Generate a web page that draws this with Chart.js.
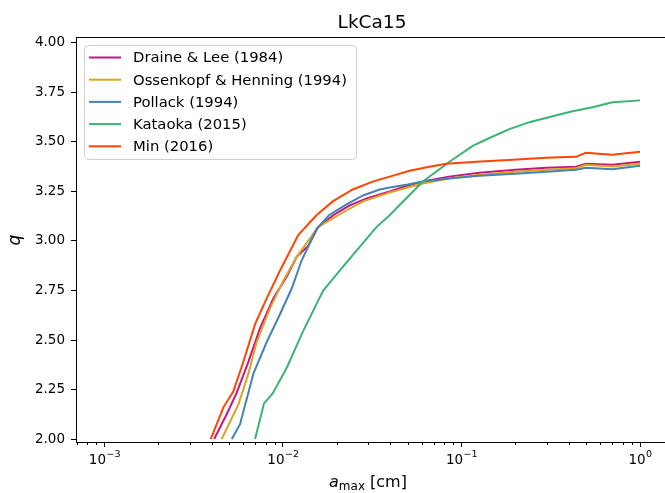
<!DOCTYPE html>
<html>
<head>
<meta charset="utf-8">
<script src="https://cdn.jsdelivr.net/npm/chart.js@4.4.0/dist/chart.umd.min.js"></script>
<style>
  body { margin: 0; background: #fff; }
  #wrap { width: 665px; height: 493px; }
</style>
</head>
<body>
<div id="wrap"><canvas id="grafik-q" width="665" height="493"></canvas></div>
<script>
// Data (a_max in cm, q)
const aMaxDraine = [0.00412, 0.00484, 0.00551, 0.0064, 0.00744, 0.00883, 0.0105, 0.01194, 0.01385, 0.01574, 0.0191, 0.02367, 0.0294, 0.0396, 0.05, 0.0608, 0.085, 0.126, 0.2, 0.3, 0.4375, 0.497, 0.7, 1.0];
const qDraine = [2.00, 2.125, 2.234, 2.39, 2.56, 2.71, 2.82, 2.92, 2.975, 3.07, 3.13, 3.18, 3.215, 3.25, 3.28, 3.30, 3.325, 3.345, 3.36, 3.37, 3.375, 3.39, 3.385, 3.40];

const aMaxOssenkopf = [0.00454, 0.00563, 0.0064, 0.00713, 0.00846, 0.01005, 0.01194, 0.01574, 0.0208, 0.0281, 0.0396, 0.05, 0.0608, 0.085, 0.126, 0.2, 0.3, 0.4375, 0.497, 0.7, 1.0];
const qOssenkopf = [2.00, 2.175, 2.33, 2.49, 2.66, 2.80, 2.92, 3.07, 3.135, 3.20, 3.245, 3.27, 3.29, 3.315, 3.335, 3.35, 3.36, 3.367, 3.385, 3.376, 3.39];

const aMaxPollack = [0.00517, 0.00575, 0.00683, 0.00811, 0.00962, 0.01119, 0.0127, 0.01541, 0.0181, 0.0227, 0.0281, 0.0348, 0.0396, 0.05, 0.0608, 0.085, 0.126, 0.2, 0.3, 0.4375, 0.497, 0.7, 1.0];
const qPollack = [2.00, 2.075, 2.33, 2.49, 2.63, 2.76, 2.90, 3.06, 3.13, 3.185, 3.23, 3.26, 3.27, 3.285, 3.30, 3.315, 3.33, 3.34, 3.35, 3.36, 3.37, 3.362, 3.38];

const aMaxKataoka = [0.00698, 0.00783, 0.00876, 0.0105, 0.01297, 0.0168, 0.0217, 0.0281, 0.0334, 0.0396, 0.0432, 0.0608, 0.0857, 0.1156, 0.1433, 0.1855, 0.24, 0.3236, 0.419, 0.542, 0.7, 1.0];
const qKataoka = [2.00, 2.18, 2.23, 2.36, 2.545, 2.75, 2.87, 2.99, 3.07, 3.13, 3.165, 3.30, 3.40, 3.48, 3.52, 3.565, 3.60, 3.63, 3.655, 3.675, 3.70, 3.71];

const aMaxMin = [0.00394, 0.00464, 0.00527, 0.006, 0.00698, 0.00811, 0.00962, 0.01217, 0.01541, 0.019, 0.0246, 0.0318, 0.0396, 0.0512, 0.0662, 0.0822, 0.1208, 0.1936, 0.297, 0.4375, 0.497, 0.7, 1.0];
const qMin = [2.00, 2.16, 2.24, 2.39, 2.58, 2.71, 2.85, 3.03, 3.13, 3.20, 3.26, 3.30, 3.325, 3.355, 3.375, 3.39, 3.40, 3.41, 3.42, 3.425, 3.445, 3.435, 3.45];

const seriesNames = ['Draine & Lee (1984)', 'Ossenkopf & Henning (1994)', 'Pollack (1994)', 'Kataoka (2015)', 'Min (2016)'];
const seriesColors = ['mediumvioletred', 'goldenrod', 'steelblue', 'mediumseagreen', 'orangered'];

const xTicks = [0.001, 0.01, 0.1, 1];
const xTickExponents = ['\u22123', '\u22122', '\u22121', '0'];
const yTicks = [2.00, 2.25, 2.50, 2.75, 3.00, 3.25, 3.50, 3.75, 4.00];

const FONT = 'DejaVu Sans';

function toPoints(xs, ys) {
  return xs.map((x, i) => ({ x: x, y: ys[i] }));
}

const allSeries = [
  toPoints(aMaxDraine, qDraine),
  toPoints(aMaxOssenkopf, qOssenkopf),
  toPoints(aMaxPollack, qPollack),
  toPoints(aMaxKataoka, qKataoka),
  toPoints(aMaxMin, qMin)
];

// Title, axis labels, top spine, minor ticks, 10^n labels, legend box
const hiasanPlugin = {
  id: 'hiasan',
  afterDraw(chart) {
    const ctx = chart.ctx;
    const area = chart.chartArea;
    const xs = chart.scales.x;
    ctx.save();
    ctx.strokeStyle = '#000';
    ctx.lineWidth = 1;

    // top spine
    ctx.beginPath();
    ctx.moveTo(area.left, area.top + 0.5);
    ctx.lineTo(area.right, area.top + 0.5);
    ctx.stroke();

    // minor ticks on the log axis
    for (let d = -4; d <= 0; d++) {
      for (let m = 2; m <= 9; m++) {
        const v = m * Math.pow(10, d);
        if (v <= xs.min || v >= xs.max) continue;
        const px = Math.round(xs.getPixelForValue(v)) + 0.5;
        ctx.beginPath();
        ctx.moveTo(px, area.bottom);
        ctx.lineTo(px, area.bottom + 3);
        ctx.stroke();
      }
    }

    ctx.fillStyle = '#000';
    ctx.textAlign = 'left';
    ctx.textBaseline = 'alphabetic';

    // x tick labels as 10 with raised exponent
    const baseFont = '13.5px "' + FONT + '"';
    const supFont = '9.5px "' + FONT + '"';
    xTicks.forEach((v, i) => {
      const px = xs.getPixelForValue(v);
      ctx.font = baseFont;
      const wBase = ctx.measureText('10').width;
      ctx.font = supFont;
      const wSup = ctx.measureText(xTickExponents[i]).width;
      const start = px - (wBase + wSup) / 2;
      ctx.font = baseFont;
      ctx.fillText('10', start, 464);
      ctx.font = supFont;
      ctx.fillText(xTickExponents[i], start + wBase + 0.5, 457);
    });

    // title
    ctx.font = '18.5px "' + FONT + '"';
    ctx.textAlign = 'center';
    ctx.fillText('LkCa15', 372, 28);

    // x label: a_max [cm]
    const mainFont = '16px "' + FONT + '"';
    const italicFont = 'oblique 16px "' + FONT + '"';
    const subFont = '12px "' + FONT + '"';
    ctx.textAlign = 'left';
    ctx.font = italicFont;
    const wA = ctx.measureText('a').width;
    ctx.font = subFont;
    const wSub = ctx.measureText('max').width;
    ctx.font = mainFont;
    const wRest = ctx.measureText(' [cm]').width;
    let x0 = 368 - (wA + wSub + wRest) / 2;
    ctx.font = italicFont;
    ctx.fillText('a', x0, 487);
    x0 += wA;
    ctx.font = subFont;
    ctx.fillText('max', x0, 490);
    x0 += wSub;
    ctx.font = mainFont;
    ctx.fillText(' [cm]', x0, 487);

    // y label: q
    ctx.save();
    ctx.translate(20, 240);
    ctx.rotate(-Math.PI / 2);
    ctx.textAlign = 'center';
    ctx.font = 'oblique 17px "' + FONT + '"';
    ctx.fillText('q', 0, 0);
    ctx.restore();

    // legend
    const lx = 84, ly = 45, lw = 272, lh = 114;
    ctx.beginPath();
    ctx.roundRect(lx + 0.5, ly + 0.5, lw, lh, 4);
    ctx.fillStyle = 'rgba(255,255,255,0.8)';
    ctx.fill();
    ctx.strokeStyle = '#d0d0d0';
    ctx.stroke();
    ctx.font = '14.8px "' + FONT + '"';
    ctx.textBaseline = 'middle';
    ctx.lineWidth = 2;
    seriesNames.forEach((name, i) => {
      const ry = 57.5 + i * 22.2;
      ctx.strokeStyle = seriesColors[i];
      ctx.beginPath();
      ctx.moveTo(89, ry);
      ctx.lineTo(121, ry);
      ctx.stroke();
      ctx.fillStyle = '#000';
      ctx.fillText(name, 133, ry + 1);
    });
    ctx.restore();
  }
};

function tampilkanGrafik() {
  const canvas = document.getElementById('grafik-q');
  const ctx = canvas.getContext('2d');
  new Chart(ctx, {
    type: 'line',
    data: {
      datasets: allSeries.map((pts, i) => ({
        label: seriesNames[i],
        data: pts,
        borderColor: seriesColors[i],
        backgroundColor: seriesColors[i],
        borderWidth: 2,
        pointRadius: 0,
        tension: 0,
        fill: false,
        order: allSeries.length - i
      }))
    },
    options: {
      responsive: false,
      animation: false,
      layout: { padding: { top: 37, left: 0, right: 0, bottom: 0 } },
      plugins: {
        legend: { display: false },
        title: { display: false },
        tooltip: { enabled: false }
      },
      scales: {
        x: {
          type: 'logarithmic',
          min: 6.93e-4,
          max: 1.38,
          bounds: 'data',
          afterBuildTicks: (s) => { s.ticks = xTicks.map(v => ({ value: v })); },
          afterFit: (s) => { s.height = 51; },
          ticks: {
            autoSkip: false,
            maxRotation: 0,
            padding: 3,
            color: '#000',
            font: { family: FONT, size: 13.5 },
            callback: () => ''
          },
          grid: { display: true, drawOnChartArea: false, drawTicks: true, tickLength: 5, tickColor: '#000', tickWidth: 1 },
          border: { display: true, color: '#000', width: 1 }
        },
        y: {
          type: 'linear',
          min: 1.985,
          max: 4.03,
          bounds: 'data',
          afterBuildTicks: (s) => { s.ticks = yTicks.map(v => ({ value: v })); },
          afterFit: (s) => { s.width = 76; },
          ticks: {
            padding: 6,
            color: '#000',
            font: { family: FONT, size: 13.5 },
            callback: (v) => v.toFixed(2)
          },
          grid: { display: true, drawOnChartArea: false, drawTicks: true, tickLength: 5, tickColor: '#000', tickWidth: 1 },
          border: { display: true, color: '#000', width: 1 }
        }
      }
    },
    plugins: [hiasanPlugin]
  });
}

document.addEventListener('DOMContentLoaded', () => {
  try {
    tampilkanGrafik();
  } catch (error) {
    console.error('Gagal membuat grafik:', error);
  }
});
</script>
</body>
</html>
